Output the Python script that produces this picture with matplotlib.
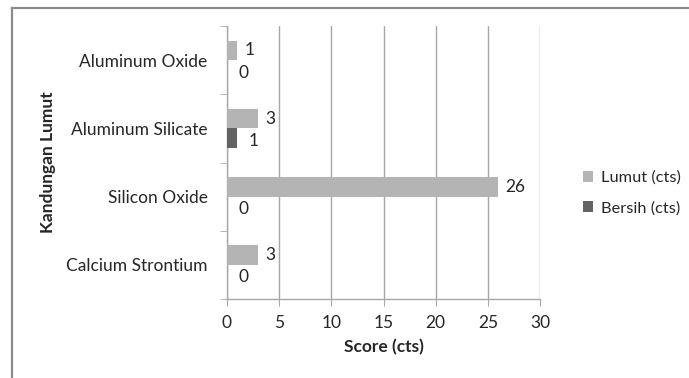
import matplotlib
matplotlib.use("Agg")
import matplotlib.pyplot as plt
from matplotlib.lines import Line2D
import numpy as np

plt.rcParams['font.family'] = ['Lato', 'DejaVu Sans']

categories = ["Calcium Strontium", "Silicon Oxide", "Aluminum Silicate", "Aluminum Oxide"]
lumut = [3, 26, 3, 1]
bersih = [0, 0, 1, 0]
series_names = ["Lumut (cts)", "Bersih (cts)"]
xticks = [0, 5, 10, 15, 20, 25, 30]

W, H = 689, 378
fig = plt.figure(figsize=(W / 100, H / 100), dpi=100)
ax = fig.add_axes([227 / W, 1 - 299 / H, (540 - 227) / W, (299 - 26) / H])

grey_light = "#b4b4b4"
grey_dark = "#636363"
grid_c = "#a8a8a8"
text_c = "#262626"
fs = 12.5

y = np.arange(len(categories))
bh = 0.285
b1 = ax.barh(y + bh / 2, lumut, height=bh, color=grey_light, label=series_names[0], zorder=3)
b2 = ax.barh(y - bh / 2, bersih, height=bh, color=grey_dark, label=series_names[1], zorder=3)

for rect, v in zip(b1, lumut):
    ax.annotate(str(v), (rect.get_width(), rect.get_y() + rect.get_height() / 2),
                xytext=(5, 0), textcoords="offset points", va="center", ha="left",
                fontsize=fs, color=text_c)
for rect, v in zip(b2, bersih):
    ax.annotate(str(v), (rect.get_width(), rect.get_y() + rect.get_height() / 2),
                xytext=(8, -2), textcoords="offset points", va="center", ha="left",
                fontsize=fs, color=text_c)

ax.set_xlim(0, 30)
ax.set_ylim(-0.5, len(categories) - 0.5)
ax.set_xticks(xticks)
ax.set_xticklabels([str(t) for t in xticks], fontsize=fs, color=text_c)
ax.set_yticks(y)
ax.set_yticklabels(categories, fontsize=fs, color=text_c)
ax.set_yticks(np.arange(-0.5, len(categories), 1.0), minor=True)
ax.tick_params(axis="y", which="major", length=0, pad=14)
ax.tick_params(axis="y", which="minor", length=5, color=grid_c, direction="out")
ax.tick_params(axis="x", which="major", length=5, color=grid_c, direction="out", pad=6.5)

ax.xaxis.grid(True, color=grid_c, linewidth=1.0, zorder=0)
ax.set_axisbelow(True)
for s in ["top", "right"]:
    ax.spines[s].set_visible(False)
for s in ["left", "bottom"]:
    ax.spines[s].set_color(grid_c)
    ax.spines[s].set_linewidth(1.0)

ax.set_xlabel("Score (cts)", fontsize=12.5, fontweight="bold", color=text_c, labelpad=6)
ax.set_ylabel("Kandungan Lumut", fontsize=12.5, fontweight="bold", color=text_c, labelpad=7)

leg = fig.legend(handles=[b1, b2], labels=series_names, loc="center left",
                 bbox_to_anchor=(568 / W, 1 - 193 / H), frameon=False,
                 fontsize=11.8, handlelength=0.65, handleheight=0.65,
                 handletextpad=0.45, labelspacing=1.0)
for t in leg.get_texts():
    t.set_color(text_c)

# outer chart frame
fig.add_artist(Line2D([11.5 / W, 1.0], [1 - 8 / H, 1 - 8 / H], color="#8c8c8c",
                      linewidth=1.6, transform=fig.transFigure))
fig.add_artist(Line2D([11.5 / W, 11.5 / W], [0.0, 1 - 8 / H], color="#8c8c8c",
                      linewidth=1.6, transform=fig.transFigure))

fig.savefig("out.png", dpi=100)
